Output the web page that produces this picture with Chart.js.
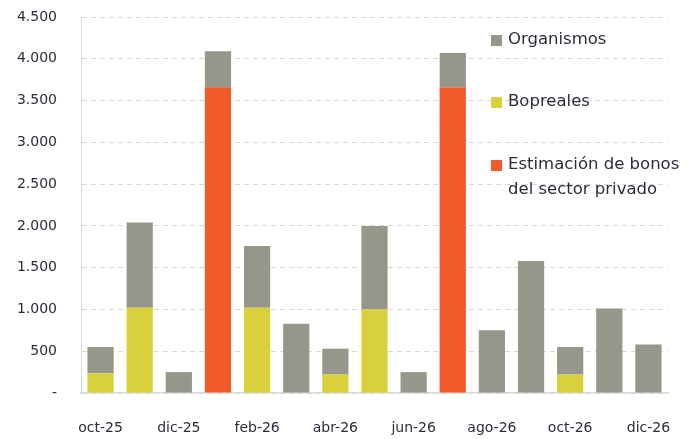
<!DOCTYPE html>
<html lang="es">
<head>
    <meta charset="UTF-8">
    <title>Vencimientos</title>
    <script src="https://cdn.jsdelivr.net/npm/chart.js"></script>
    <style>
        body { margin: 0; background: #fff; }
        #wrap { width: 697px; height: 439px; }
    </style>
</head>
<body>
    <div id="wrap"><canvas id="chart" width="697" height="439"></canvas></div>

    <script>
        const meses = ['oct-25', 'nov-25', 'dic-25', 'ene-26', 'feb-26', 'mar-26', 'abr-26', 'may-26',
            'jun-26', 'jul-26', 'ago-26', 'sep-26', 'oct-26', 'nov-26', 'dic-26'];
        const bonosPrivados = [0, 0, 0, 3660, 0, 0, 0, 0, 0, 3660, 0, 0, 0, 0, 0];
        const bopreales = [235, 1020, 0, 0, 1020, 0, 220, 1000, 0, 0, 0, 0, 220, 0, 0];
        const organismos = [315, 1020, 250, 430, 740, 830, 310, 1000, 250, 410, 750, 1580, 330, 1010, 580];
        const yTicks = [0, 500, 1000, 1500, 2000, 2500, 3000, 3500, 4000, 4500];

        const gris = '#97968b';
        const amarillo = '#d9d13c';
        const naranja = '#f15a2b';
        const fuente = "'DejaVu Sans', sans-serif";
        const texto = '#2b2b3a';

        // leyenda dibujada a mano dentro del area del grafico
        const leyenda = {
            id: 'leyenda',
            afterDraw(chart) {
                const c = chart.ctx;
                const items = [
                    { color: gris, lines: ['Organismos'], y: 40 },
                    { color: amarillo, lines: ['Bopreales'], y: 102 },
                    { color: naranja, lines: ['Estimación de bonos', 'del sector privado'], y: 165 }
                ];
                c.save();
                c.font = '16.5px ' + fuente;
                c.textBaseline = 'middle';
                items.forEach(it => {
                    c.fillStyle = it.color;
                    c.fillRect(491, it.y - 5, 11, 11);
                    c.fillStyle = texto;
                    it.lines.forEach((t, i) => c.fillText(t, 508, it.y + i * 25));
                });
                c.restore();
            }
        };

        new Chart(document.getElementById('chart'), {
            type: 'bar',
            data: {
                labels: meses,
                datasets: [
                    { label: 'Estimación de bonos del sector privado', data: bonosPrivados, backgroundColor: naranja },
                    { label: 'Bopreales', data: bopreales, backgroundColor: amarillo },
                    { label: 'Organismos', data: organismos, backgroundColor: gris }
                ]
            },
            options: {
                responsive: false,
                animation: false,
                layout: { padding: { top: 17, right: 29, left: 0, bottom: 0 } },
                datasets: { bar: { categoryPercentage: 0.67, barPercentage: 1 } },
                plugins: { legend: { display: false }, tooltip: { enabled: false } },
                scales: {
                    x: {
                        stacked: true,
                        grid: { display: false },
                        border: { display: true, color: '#d9d9d9', width: 1.5 },
                        ticks: {
                            autoSkip: false,
                            maxRotation: 0,
                            padding: 19,
                            color: texto,
                            font: { family: fuente, size: 14 },
                            callback: (v, i) => i % 2 === 0 ? meses[i] : ''
                        },
                        afterFit: s => { s.height = 46; }
                    },
                    y: {
                        stacked: true,
                        min: 0,
                        max: 4500,
                        afterBuildTicks: s => { s.ticks = yTicks.map(v => ({ value: v })); },
                        grid: { color: '#d9d9d9', drawTicks: false },
                        border: { display: true, color: '#d9d9d9', dash: [5, 4] },
                        ticks: {
                            padding: 24,
                            color: texto,
                            font: { family: fuente, size: 14 },
                            callback: v => v === 0 ? '-' : v.toLocaleString('de-DE')
                        },
                        afterFit: s => {
                            s.width = 81;
                            s.paddingTop = 0;
                            s.paddingBottom = 0;
                        }
                    }
                }
            },
            plugins: [leyenda]
        });
    </script>
</body>
</html>
